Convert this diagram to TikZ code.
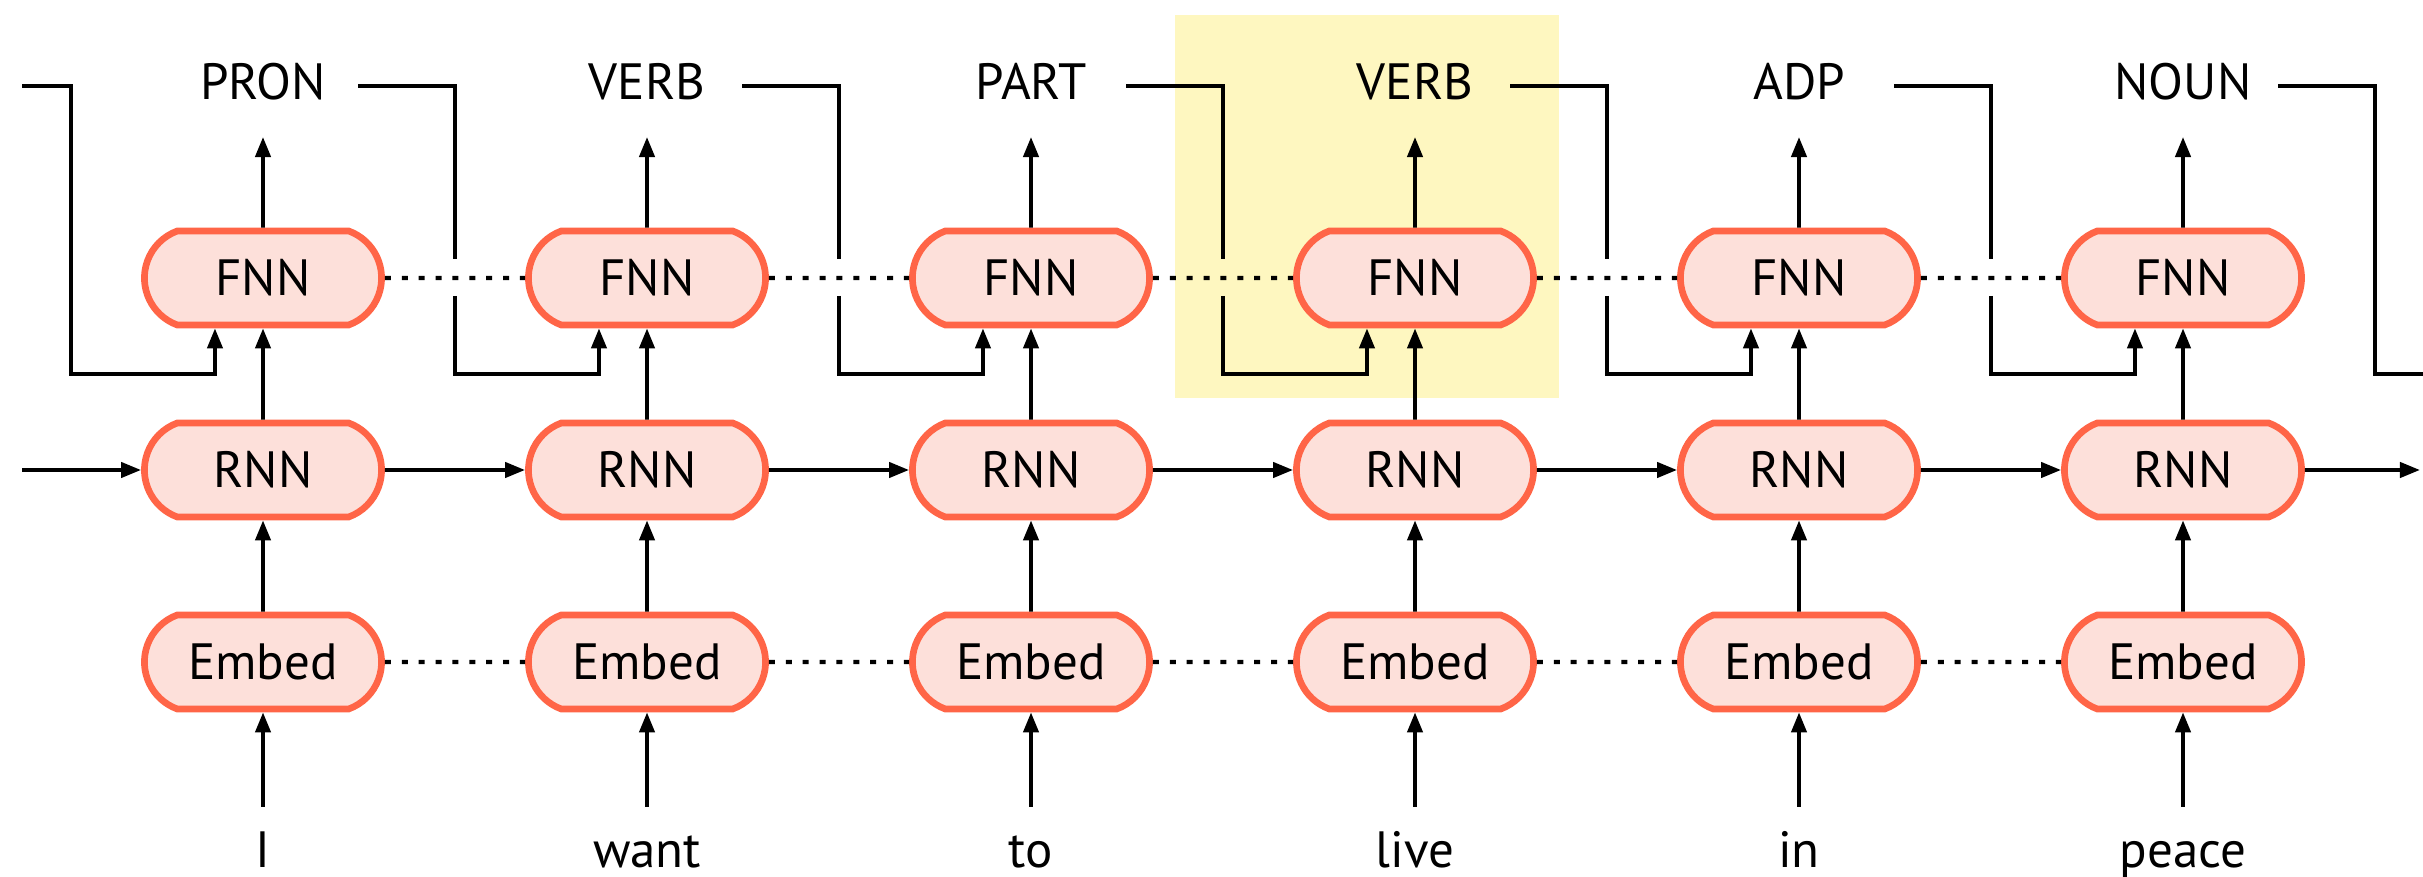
\documentclass[tikz,border=0pt]{standalone}
\usepackage{fontspec}
\setmainfont{PT Sans}
\usetikzlibrary{arrows.meta,shapes.misc}

\definecolor{cellline}{HTML}{FF6547}
\definecolor{cellfill}{HTML}{FDE0DA}
\definecolor{hilite}{HTML}{FEF7C0}

\tikzset{
  cell/.style={rounded rectangle,rounded rectangle arc length=140,draw=cellline,fill=cellfill,line width=1.9pt,minimum width=2.37cm,minimum height=0.94cm,inner sep=0pt,text height=10.2pt,text depth=0pt},
  postag/.style={inner sep=0pt,outer ysep=0.37cm,text height=10.2pt,text depth=0pt,anchor=south},
  token/.style={inner sep=0pt,outer ysep=0.25cm,text height=10.2pt,text depth=0pt,anchor=north},
  flow/.style={line width=1.1pt,-{Triangle[length=5.7pt,width=4.3pt]}},
  wire/.style={line width=1.1pt},
  hop/.style={line width=1.15pt,dash pattern=on 1.7pt off 3.1pt},
}

\begin{document}
\begin{tikzpicture}[x=0.01cm,y=-0.01cm,font=\fontsize{14.5}{17}\selectfont]
  \useasboundingbox (0,0) rectangle (2423,877);
  % highlighted time step
  \fill[hilite] (1175,15) rectangle (1559,398);

  % one column per word
  \foreach \i/\lab/\wrd in {1/PRON/I,2/VERB/want,3/PART/to,4/VERB/live,5/ADP/in,6/NOUN/peace}{
    \pgfmathsetmacro\cx{263+384*(\i-1)}
    \node[cell] (fnn\i) at (\cx,278) {FNN};
    \node[cell] (rnn\i) at (\cx,470) {RNN};
    \node[cell] (emb\i) at (\cx,662) {Embed};
    \node[postag] (lab\i) at (\cx,137) {\lab};
    \node[token] (tok\i) at (\cx,807) {\wrd};
    \coordinate (out\i) at (\cx+95,86);
    \coordinate (turn\i) at (\cx+192,86);
  }

  \foreach \i in {1,...,6}{
    \draw[flow] (tok\i) -- (emb\i);
    \draw[flow] (emb\i) -- (rnn\i);
    \draw[flow] (rnn\i) -- (fnn\i);
    \draw[flow] (fnn\i) -- (lab\i);
  }

  % recurrence, shared layers, and tag feedback (broken over the dots)
  \foreach \i [count=\j from 2] in {1,...,5}{
    \pgfmathsetmacro\bx{263+384*(\i-1)+192}
    \draw[flow] (rnn\i) -- (rnn\j);
    \draw[hop] (fnn\i) -- (fnn\j);
    \draw[hop] (emb\i) -- (emb\j);
    \draw[wire] (out\i) -- (turn\i) -- (\bx,259);
    \draw[flow] (\bx,296) -- (\bx,374) -| ([xshift=-0.48cm]fnn\j.south);
  }

  % open ends on both sides
  \coordinate (rin) at (22,470);
  \coordinate (rout) at (2420,470);
  \coordinate (fin) at (22,86);
  \coordinate (fout) at (2423,374);
  \draw[flow] (rin) -- (rnn1);
  \draw[flow] (rnn6) -- (rout);
  \draw[flow] (fin) -- (71,86) -- (71,374) -| ([xshift=-0.48cm]fnn1.south);
  \draw[wire] (out6) -| (2375,374) -- (fout);
\end{tikzpicture}
\end{document}
